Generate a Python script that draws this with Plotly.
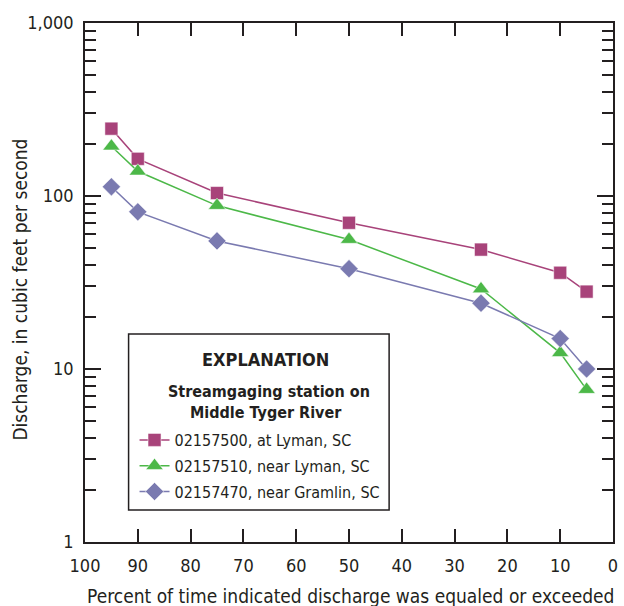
import plotly.graph_objects as go

# Flow-duration values, cubic feet per second
percent_exceeded = [95, 90, 75, 50, 25, 10, 5]
lyman_02157500 = [245, 164, 104, 70, 49, 36, 28]
near_lyman_02157510 = [194, 139, 88, 56, 29, 12.4, 7.6]
gramlin_02157470 = [113, 81, 55, 38, 24, 15, 10]

series_names = [
    "02157500, at Lyman, SC",
    "02157510, near Lyman, SC",
    "02157470, near Gramlin, SC",
]
series_colors = ["#A8437A", "#4CB848", "#7A7AB0"]
series_symbols = ["square", "triangle-up", "diamond"]

y_major = [1, 10, 100, 1000]
y_major_text = ["1", "10", "100", "1,000"]
y_minor = [m * d for d in (1, 10, 100) for m in range(2, 10)]
x_ticks = list(range(0, 101, 10))

FONT = "Liberation Sans Narrow, Arial Narrow, DejaVu Sans Condensed, sans-serif"
INK = "#231F20"

# plot-area geometry in pixels, used to place the explanation box
L, R, T, B = 85, 618, 23, 542
W, H = R - L, B - T


def px(x):
    return (x - L) / W


def py(y):
    return 1 - (y - T) / H


fig = go.Figure()
for i, (name, vals, col, sym, msize) in enumerate(zip(
    series_names,
    [lyman_02157500, near_lyman_02157510, gramlin_02157470],
    series_colors,
    series_symbols,
    [13, 15, 14],
)):
    fig.add_trace(
        go.Scatter(
            x=percent_exceeded,
            y=vals,
            name=name,
            legendgroup=f"g{i}",
            mode="lines+markers",
            line=dict(color=col, width=1.5),
            marker=dict(symbol=sym, size=msize, color=col,
                        line=dict(color="rgba(255,255,255,0.5)", width=1)),
        )
    )

fig.update_layout(
    width=624,
    height=606,
    margin=dict(l=L, r=624 - R, t=T, b=606 - B),
    paper_bgcolor="white",
    plot_bgcolor="white",
    font=dict(family=FONT, size=19, color=INK),
    showlegend=True,
    legend=dict(
        x=px(135), y=py(423), xanchor="left", yanchor="top",
        borderwidth=0, bgcolor="rgba(0,0,0,0)",
        font=dict(family=FONT, size=16, color=INK),
        tracegroupgap=2,
        itemwidth=30,
    ),
    shapes=[
        dict(type="rect", xref="paper", yref="paper",
             x0=px(129), x1=px(392), y0=py(510), y1=py(334),
             line=dict(color=INK, width=1.5), fillcolor="white", layer="below"),
    ],
    xaxis=dict(
        range=[100, 0],
        tickvals=x_ticks,
        ticks="inside",
        ticklen=13,
        tickwidth=1.5,
        tickcolor=INK,
        showline=True,
        linecolor=INK,
        linewidth=1.5,
        mirror="ticks",
        showgrid=False,
        zeroline=False,
        ticklabelstandoff=7,
        tickfont=dict(size=18),
    ),
    yaxis=dict(
        type="log",
        range=[0, 3],
        tickvals=y_major,
        ticktext=y_major_text,
        ticks="inside",
        ticklen=16,
        tickwidth=1.5,
        tickcolor=INK,
        minor=dict(tickvals=y_minor, ticks="inside", ticklen=11,
                   tickwidth=1.5, tickcolor=INK, showgrid=False),
        showline=True,
        linecolor=INK,
        linewidth=1.5,
        mirror="ticks",
        showgrid=False,
        zeroline=False,
        ticklabelstandoff=6,
        tickfont=dict(size=18),
    ),
    annotations=[
        dict(text="Discharge, in cubic feet per second", textangle=-90,
             xref="paper", yref="paper", x=px(19), y=py(290),
             xanchor="center", yanchor="middle", showarrow=False,
             font=dict(size=19)),
        dict(text="Percent of time indicated discharge was equaled or exceeded",
             xref="paper", yref="paper", x=px(353), y=py(596),
             xanchor="center", yanchor="middle", showarrow=False,
             font=dict(size=19)),
        dict(text="<b>EXPLANATION</b>", xref="paper", yref="paper",
             x=px(267), y=py(359), xanchor="center", yanchor="middle",
             showarrow=False, font=dict(size=18)),
        dict(text="<b>Streamgaging station on</b>", xref="paper", yref="paper",
             x=px(271), y=py(391), xanchor="center", yanchor="middle",
             showarrow=False, font=dict(size=16)),
        dict(text="<b>Middle Tyger River</b>", xref="paper", yref="paper",
             x=px(268), y=py(412), xanchor="center", yanchor="middle",
             showarrow=False, font=dict(size=16)),
    ],
)

fig.write_html("out.html")
